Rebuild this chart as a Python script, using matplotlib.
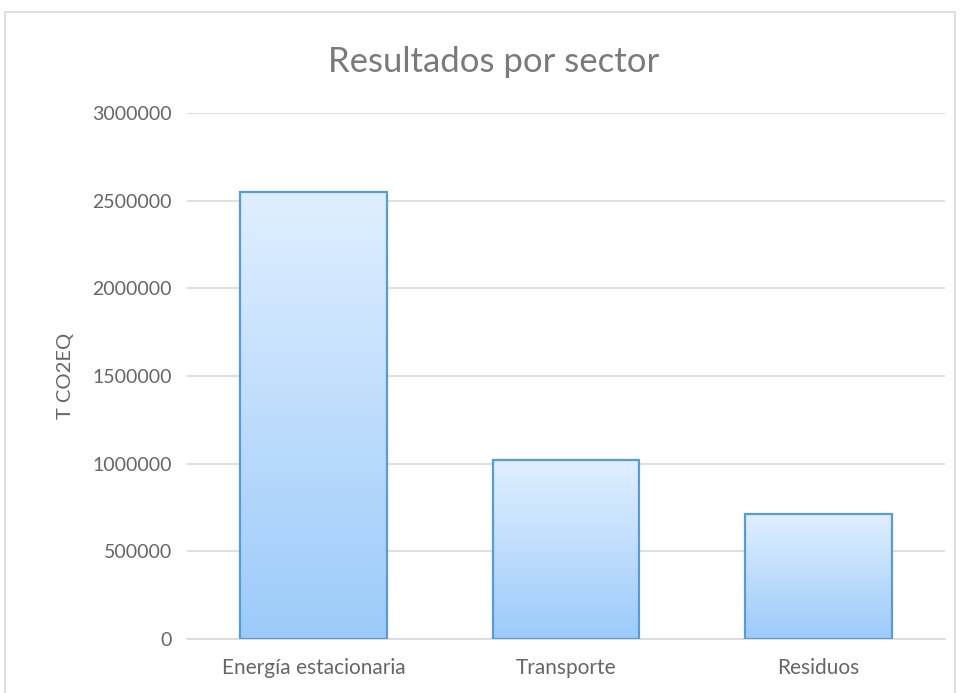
import matplotlib.pyplot as plt
import numpy as np
from matplotlib.colors import LinearSegmentedColormap
from matplotlib.patches import Rectangle
from matplotlib.ticker import StrMethodFormatter

plt.rcParams['font.family'] = ['Lato', 'DejaVu Sans']

sectores = ["Energía estacionaria", "Transporte", "Residuos"]
emisiones = [2550000, 1020000, 715000]

fig = plt.figure(figsize=(9.6, 6.93), dpi=100)
ax = fig.add_axes([187 / 960, 1 - 639 / 693, (945 - 187) / 960, (639 - 113) / 693])

# marco del gráfico
fig.patches.append(Rectangle((5 / 960, -0.01), 950 / 960, 1 - 12 / 693 + 0.01,
                             transform=fig.transFigure, fill=False,
                             edgecolor="#d9d9d9", linewidth=1.2))

grad = LinearSegmentedColormap.from_list("g", ["#9ccbfa", "#e0efff"])
x = np.arange(len(sectores))
bars = ax.bar(x, emisiones, width=0.58, color="none", edgecolor="#5b9bd5",
              linewidth=1.6, zorder=3)
for b in bars:
    x0, y0 = b.get_x(), b.get_y()
    w, h = b.get_width(), b.get_height()
    im = ax.imshow(np.linspace(0, 1, 256).reshape(-1, 1), cmap=grad,
                   extent=[x0, x0 + w, y0, y0 + h], origin="lower",
                   aspect="auto", zorder=2)
    im.set_clip_path(b)

ax.set_xlim(-0.5, 2.5)
ax.set_ylim(0, 3000000)
ax.set_yticks(np.arange(0, 3000001, 500000))
ax.yaxis.set_major_formatter(StrMethodFormatter("{x:.0f}"))
ax.set_xticks(x)
ax.set_xticklabels(sectores)
ax.grid(axis="y", color="#d9d9d9", linewidth=1.2, zorder=0)
for s in ["top", "right", "left"]:
    ax.spines[s].set_visible(False)
ax.spines["bottom"].set_color("#d9d9d9")
ax.spines["bottom"].set_linewidth(1.2)
ax.tick_params(axis="y", length=0, labelsize=14, colors="#666666", pad=11)
ax.tick_params(axis="x", length=0, labelsize=15, colors="#666666", pad=14)

ax.set_ylabel("T CO2EQ", fontsize=14.5, color="#666666", labelpad=13)
fig.text(0.514, 1 - 62 / 693, "Resultados por sector", ha="center", va="center",
         fontsize=25, color="#7a7a7a")

fig.savefig("out.png", dpi=100)
